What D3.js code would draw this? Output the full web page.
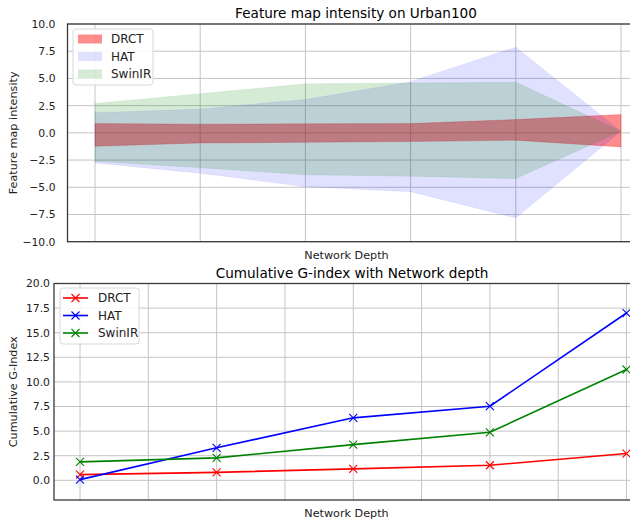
<!DOCTYPE html>
<html>
<head>
<meta charset="utf-8">
<script src="https://cdn.jsdelivr.net/npm/d3@7"></script>
<style>
  body { margin: 0; background: #fff; }
  svg { display: block; font-family: "DejaVu Sans", sans-serif; }
</style>
</head>
<body>
<div class="container"></div>
<script>
// ---- data ----
const models = ["DRCT", "HAT", "SwinIR"];
const modelColors = ["#ff0000", "#0000ff", "#008000"];
const bandAlpha = [0.45, 0.12, 0.16];

// top panel: min / max feature intensity per stage
const depthTop = [0, 1, 2, 3, 4, 5];
const drctUpper = [0.85, 0.8, 0.83, 0.85, 1.22, 1.68];
const drctLower = [-1.23, -0.93, -0.87, -0.8, -0.68, -1.29];
const hatUpper = [1.84, 2.2, 3.06, 4.7, 7.87, 0.15];
const hatLower = [-2.76, -3.7, -4.95, -5.4, -7.81, 0.15];
const swinUpper = [2.7, 3.6, 4.5, 4.57, 4.65, 0.15];
const swinLower = [-2.6, -3.2, -3.85, -3.98, -4.2, 0.15];

// bottom panel: cumulative G-index
const depthBottom = [0, 1, 2, 3, 4];
const drctG = [0.58, 0.81, 1.16, 1.53, 2.72];
const hatG = [0.07, 3.3, 6.35, 7.53, 17.0];
const swinG = [1.87, 2.28, 3.63, 4.88, 11.26];

const topYTicks = [-10, -7.5, -5, -2.5, 0, 2.5, 5, 7.5, 10];
const bottomYTicks = [0, 2.5, 5, 7.5, 10, 12.5, 15, 17.5, 20];
const topXTicks = [0, 1, 2, 3, 4, 5];
const bottomXTicks = [0, 0.5, 1, 1.5, 2, 2.5, 3, 3.5, 4];

const fmt = d => d3.format(".1f")(d).replace("-", "\u2212");

const svg = d3.select(".container")
    .append("svg")
    .attr("width", 630)
    .attr("height", 521);

// draws grid, spines, y tick labels and the texts of one panel
function drawFrame(box, x, y, xTicks, yTicks, labelGap, title, yLabel) {
    const g = svg.append("g");

    g.selectAll(".vgrid").data(xTicks).enter().append("line")
        .attr("x1", d => x(d)).attr("x2", d => x(d))
        .attr("y1", box.top).attr("y2", box.bottom)
        .attr("stroke", "#c4c4c4").attr("stroke-width", 1);

    g.selectAll(".hgrid").data(yTicks).enter().append("line")
        .attr("x1", box.left).attr("x2", box.right)
        .attr("y1", d => y(d)).attr("y2", d => y(d))
        .attr("stroke", "#c4c4c4").attr("stroke-width", 1);

    g.selectAll(".ylab").data(yTicks).enter().append("text")
        .attr("x", box.left - labelGap)
        .attr("y", d => y(d))
        .attr("dy", "0.36em")
        .attr("text-anchor", "end")
        .attr("font-size", "10.8px")
        .attr("fill", "#222")
        .text(fmt);

    svg.append("text")
        .attr("x", box.titleX)
        .attr("y", box.top - 6)
        .attr("text-anchor", "middle")
        .attr("font-size", "13.6px")
        .text(title);

    svg.append("text")
        .attr("x", 346.5)
        .attr("y", box.bottom + 17)
        .attr("text-anchor", "middle")
        .attr("font-size", "11.2px")
        .attr("fill", "#222")
        .text("Network Depth");

    svg.append("text")
        .attr("transform", `translate(17, ${(box.top + box.bottom) / 2}) rotate(-90)`)
        .attr("text-anchor", "middle")
        .attr("font-size", "11.2px")
        .attr("fill", "#222")
        .text(yLabel);

    return g;
}

function drawSpines(box) {
    svg.append("rect")
        .attr("x", box.left).attr("y", box.top)
        .attr("width", box.right - box.left)
        .attr("height", box.bottom - box.top)
        .attr("fill", "none")
        .attr("stroke", "#3a3a3a")
        .attr("stroke-width", 1.3);
}

function drawLegend(lx, ly, w, h, drawHandle) {
    const lg = svg.append("g").attr("transform", `translate(${lx}, ${ly})`);
    lg.append("rect")
        .attr("width", w).attr("height", h)
        .attr("rx", 3)
        .attr("fill", "#fff").attr("fill-opacity", 0.85)
        .attr("stroke", "#d8d8d8");
    models.forEach((m, i) => {
        const cy = 10 + i * 17.5;
        drawHandle(lg, i, cy);
        lg.append("text")
            .attr("x", 38).attr("y", cy)
            .attr("dy", "0.36em")
            .attr("font-size", "12px")
            .attr("fill", "#222")
            .text(m);
    });
}

// ---------- top panel ----------
const boxTop = {left: 67.5, right: 648, top: 24, bottom: 241.7, titleX: 356};
const xTop = d3.scaleLinear().domain([0, 5]).range([95, 621]);
const yTop = d3.scaleLinear().domain([-10, 10]).range([boxTop.bottom, boxTop.top]);

drawFrame(boxTop, xTop, yTop, topXTicks, topYTicks, 12, "Feature map intensity on Urban100", "Feature map intensity");

const bands = [
    depthTop.map((d, i) => ({x: d, lo: drctLower[i], hi: drctUpper[i]})),
    depthTop.map((d, i) => ({x: d, lo: hatLower[i], hi: hatUpper[i]})),
    depthTop.map((d, i) => ({x: d, lo: swinLower[i], hi: swinUpper[i]}))
];

const area = d3.area()
    .x(d => xTop(d.x))
    .y0(d => yTop(d.lo))
    .y1(d => yTop(d.hi));

svg.selectAll(".band")
    .data(bands)
    .enter()
    .append("path")
    .attr("d", area)
    .attr("fill", (d, i) => modelColors[i])
    .attr("fill-opacity", (d, i) => bandAlpha[i])
    .attr("stroke", (d, i) => modelColors[i])
    .attr("stroke-opacity", (d, i) => bandAlpha[i] * 0.6)
    .attr("stroke-width", 0.8);

drawSpines(boxTop);

drawLegend(73, 29, 80, 56, (lg, i, cy) => {
    lg.append("rect")
        .attr("x", 5).attr("y", cy - 4.5)
        .attr("width", 24).attr("height", 9)
        .attr("fill", modelColors[i])
        .attr("fill-opacity", bandAlpha[i]);
});

// ---------- bottom panel ----------
const boxBottom = {left: 54, right: 654, top: 283.5, bottom: 500, titleX: 352};
const xBottom = d3.scaleLinear().domain([0, 4]).range([80, 626.5]);
const yBottom = d3.scaleLinear().domain([-2, 20]).range([boxBottom.bottom, boxBottom.top]);

drawFrame(boxBottom, xBottom, yBottom, bottomXTicks, bottomYTicks, 4, "Cumulative G-index with Network depth", "Cumulative G-Index");

const series = [drctG, hatG, swinG];
const line = d3.line()
    .x((d, i) => xBottom(depthBottom[i]))
    .y(d => yBottom(d));

series.forEach((vals, k) => {
    svg.append("path")
        .datum(vals)
        .attr("d", line)
        .attr("fill", "none")
        .attr("stroke", modelColors[k])
        .attr("stroke-width", 1.6);

    svg.selectAll(".mk" + k)
        .data(vals)
        .enter()
        .append("path")
        .attr("transform", (d, i) => `translate(${xBottom(depthBottom[i])}, ${yBottom(d)})`)
        .attr("d", "M-4,-4L4,4M-4,4L4,-4")
        .attr("stroke", modelColors[k])
        .attr("stroke-width", 1.1);
});

drawSpines(boxBottom);

drawLegend(60, 288, 79, 56, (lg, i, cy) => {
    lg.append("line")
        .attr("x1", 3).attr("x2", 28)
        .attr("y1", cy).attr("y2", cy)
        .attr("stroke", modelColors[i])
        .attr("stroke-width", 1.6);
    lg.append("path")
        .attr("transform", `translate(15.5, ${cy})`)
        .attr("d", "M-4,-4L4,4M-4,4L4,-4")
        .attr("stroke", modelColors[i])
        .attr("stroke-width", 1.1);
});
</script>
</body>
</html>
